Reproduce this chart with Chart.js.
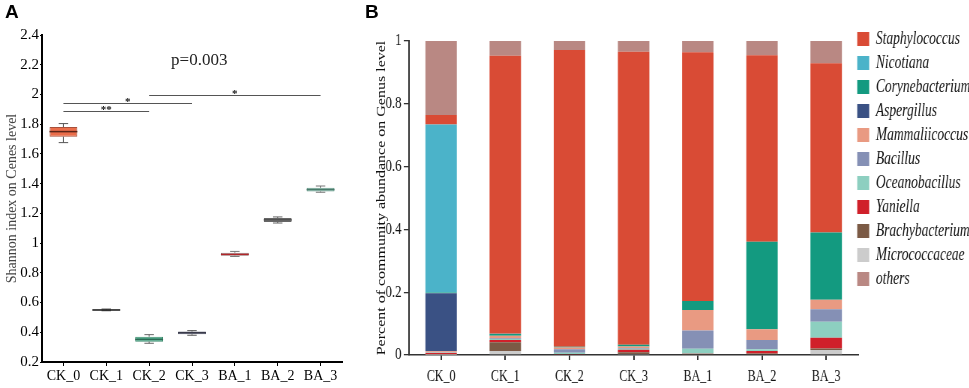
<!DOCTYPE html>
<html><head><meta charset="utf-8">
<script src="https://cdn.jsdelivr.net/npm/chart.js@4/dist/chart.umd.min.js"></script>
<style>
html,body{margin:0;padding:0;background:#fff;overflow:hidden}
body{width:969px;height:388px;position:relative}
#wa{position:absolute;left:0;top:0;width:350px;height:388px}
#wb{position:absolute;left:355px;top:0;width:819px;height:388px;transform:scaleX(0.75);transform-origin:0 0}
.lab{position:absolute;font:bold 19px "Liberation Sans",Arial,sans-serif;line-height:1;color:#000}
</style></head><body>
<div id="wa"><canvas id="ca" width="350" height="388"></canvas></div>
<div id="wb"><canvas id="cb" width="819" height="388"></canvas></div>
<div class="lab" style="left:5px;top:2px">A</div>
<div class="lab" style="left:365px;top:2px">B</div>
<script>
// ---------- data ----------
const groups = ['CK_0','CK_1','CK_2','CK_3','BA_1','BA_2','BA_3'];

// Panel A: Shannon index box statistics
const shannonMin = [1.676, 0.545, 0.326, 0.380, 0.910, 1.135, 1.342];
const shannonQ1  = [1.716, 0.547, 0.337, 0.386, 0.915, 1.142, 1.347];
const shannonMed = [1.750, 0.550, 0.352, 0.397, 0.924, 1.156, 1.360];
const shannonQ3  = [1.781, 0.553, 0.370, 0.405, 0.935, 1.168, 1.372];
const shannonMax = [1.804, 0.556, 0.384, 0.411, 0.944, 1.176, 1.384];
const shannonTicks = [0.2, 0.4, 0.6, 0.8, 1, 1.2, 1.4, 1.6, 1.8, 2, 2.2, 2.4];
const sigFrom  = [0, 0, 2];
const sigTo    = [2, 3, 6];
const sigLevel = [1.889, 1.943, 1.995];
const sigMark  = ['**', '*', '*'];
const pLabel = 'p=0.003';

// Panel B: relative abundance (legend order)
const genera = ['Staphylococcus','Nicotiana','Corynebacterium','Aspergillus','Mammaliicoccus','Bacillus','Oceanobacillus','Yaniella','Brachybacterium','Micrococcaceae','others'];
const staphylococcus  = [0.030, 0.885, 0.945, 0.933, 0.792, 0.594, 0.539];
const nicotiana       = [0.535, 0.001, 0.000, 0.000, 0.000, 0.000, 0.000];
const corynebacterium = [0.002, 0.006, 0.002, 0.006, 0.029, 0.279, 0.214];
const aspergillus     = [0.185, 0.000, 0.000, 0.000, 0.000, 0.000, 0.000];
const mammaliicoccus  = [0.004, 0.008, 0.006, 0.005, 0.065, 0.034, 0.030];
const bacillus        = [0.001, 0.002, 0.011, 0.002, 0.058, 0.030, 0.040];
const oceanobacillus  = [0.001, 0.003, 0.004, 0.003, 0.016, 0.005, 0.051];
const yaniella        = [0.004, 0.007, 0.001, 0.008, 0.001, 0.008, 0.034];
const brachybacterium = [0.001, 0.028, 0.000, 0.006, 0.001, 0.003, 0.005];
const micrococcaceae  = [0.001, 0.013, 0.002, 0.003, 0.002, 0.002, 0.016];
const others          = [0.236, 0.047, 0.029, 0.034, 0.036, 0.045, 0.071];
const abundanceTicks = [0, 0.2, 0.4, 0.6, 0.8, 1];

// ---------- styles ----------
const SERIF = '"Liberation Serif","Times New Roman",serif';
const boxFill   = ['#ea6d4a','#5a5a5a','#4fae8c','#8a8fa8','#c8c8c8','#9b9b9b','#8fc8b6'];
const boxEdge   = ['#a8503a','#333333','#3d8a6e','#555a6e','#888888','#666666','#6a9a8b'];
const medColor  = ['#5a2418','#222222','#2d6a55','#3a3a4a','#b3262a','#444444','#4a7a6b'];
const whiskColor= ['#555555','#444444','#666666','#555555','#777777','#666666','#777777'];

const generaColors = ['#d94b35','#4bb3c9','#139a80','#3a5184','#e99a82','#8590b5','#8dcfc0','#d0202a','#7b5a45','#cccccc','#b98883'];
const seriesB = [staphylococcus, nicotiana, corynebacterium, aspergillus, mammaliicoccus, bacillus, oceanobacillus, yaniella, brachybacterium, micrococcaceae, others];
const stackOrder = [9, 8, 7, 6, 5, 4, 3, 2, 1, 0, 10]; // bottom -> top

const fmt = v => String(+(+v).toFixed(2));

// ---------- Panel A ----------
const boxExtras = {
  id: 'boxExtras',
  afterDatasetsDraw(chart) {
    const {ctx, scales: {x, y}} = chart;
    const meta = chart.getDatasetMeta(0);
    ctx.save();
    groups.forEach((g, i) => {
      const bar = meta.data[i];
      const cx = x.getPixelForValue(i);
      const hw = bar.width / 2;
      const cw = bar.width * 0.17;
      ctx.strokeStyle = whiskColor[i];
      ctx.lineWidth = 1;
      ctx.beginPath();
      const yMax = y.getPixelForValue(shannonMax[i]);
      const yMin = y.getPixelForValue(shannonMin[i]);
      ctx.moveTo(cx, yMax); ctx.lineTo(cx, y.getPixelForValue(shannonQ3[i]));
      ctx.moveTo(cx, y.getPixelForValue(shannonQ1[i])); ctx.lineTo(cx, yMin);
      ctx.moveTo(cx - cw, yMax); ctx.lineTo(cx + cw, yMax);
      ctx.moveTo(cx - cw, yMin); ctx.lineTo(cx + cw, yMin);
      ctx.stroke();
      ctx.strokeStyle = medColor[i];
      ctx.lineWidth = 1.5;
      ctx.beginPath();
      const ym = y.getPixelForValue(shannonMed[i]);
      ctx.moveTo(cx - hw, ym); ctx.lineTo(cx + hw, ym);
      ctx.stroke();
    });
    ctx.restore();
  }
};
const sigPlugin = {
  id: 'sigPlugin',
  afterDraw(chart) {
    const {ctx, scales: {x, y}} = chart;
    ctx.save();
    ctx.strokeStyle = '#555';
    ctx.lineWidth = 1;
    ctx.fillStyle = '#111';
    ctx.font = 'bold 11px ' + SERIF;
    ctx.textAlign = 'center';
    ctx.textBaseline = 'alphabetic';
    sigFrom.forEach((f, k) => {
      const x1 = x.getPixelForValue(f), x2 = x.getPixelForValue(sigTo[k]);
      const yy = Math.round(y.getPixelForValue(sigLevel[k])) + 0.5;
      ctx.beginPath(); ctx.moveTo(x1, yy); ctx.lineTo(x2, yy); ctx.stroke();
      ctx.fillText(sigMark[k], (x1 + x2) / 2, yy + 1);
    });
    ctx.font = '17px ' + SERIF;
    ctx.fillStyle = '#222';
    ctx.textBaseline = 'middle';
    ctx.fillText(pLabel, x.getPixelForValue(3.17), y.getPixelForValue(2.23));
    ctx.restore();
  }
};

new Chart(document.getElementById('ca'), {
  type: 'bar',
  data: {
    labels: groups,
    datasets: [{
      data: groups.map((g, i) => [shannonQ1[i], shannonQ3[i]]),
      backgroundColor: boxFill,
      borderColor: boxEdge,
      borderWidth: 1,
      borderSkipped: false,
      barPercentage: 0.65,
      categoryPercentage: 1
    }]
  },
  options: {
    responsive: false, animation: false, events: [],
    layout: {padding: {top: 35, right: 8, left: 0, bottom: 0}},
    plugins: {legend: {display: false}, tooltip: {enabled: false}},
    scales: {
      x: {
        afterFit: s => { s.height = 26; },
        grid: {drawOnChartArea: false, offset: false, tickLength: 4, color: '#000', lineWidth: 1},
        border: {color: '#000', width: 2},
        ticks: {color: '#000', padding: 2, font: {family: SERIF, size: 14}}
      },
      y: {
        min: shannonTicks[0], max: shannonTicks[shannonTicks.length - 1],
        afterFit: s => { s.width = 42; },
        afterBuildTicks: s => { s.ticks = shannonTicks.map(v => ({value: v})); },
        grid: {drawOnChartArea: false, tickLength: 2, color: '#000', lineWidth: 1},
        border: {color: '#000', width: 2},
        ticks: {color: '#000', padding: 1, font: {family: SERIF, size: 15}, callback: v => fmt(v)},
        title: {display: true, text: 'Shannon index on Cenes level', color: '#444', font: {family: SERIF, size: 14}, padding: {top: 4, bottom: 0}}
      }
    }
  },
  plugins: [boxExtras, sigPlugin]
});

// ---------- Panel B ----------
const legendPos = {
  id: 'legendPos',
  beforeDraw(chart) {
    const lg = chart.legend;
    if (!lg) return;
    lg.left = chart.chartArea.right - 7.4;
    lg.top = 24;
    lg.right = chart.width;
  }
};

new Chart(document.getElementById('cb'), {
  type: 'bar',
  data: {
    labels: groups,
    datasets: stackOrder.map(i => ({
      label: genera[i],
      data: seriesB[i],
      backgroundColor: generaColors[i],
      borderWidth: 0,
      barPercentage: 0.49,
      categoryPercentage: 1
    }))
  },
  options: {
    responsive: false, animation: false, events: [],
    layout: {padding: {top: 41, right: 0, left: 0, bottom: 0}},
    plugins: {
      tooltip: {enabled: false},
      legend: {
        position: 'right', align: 'start', maxWidth: 148,
        labels: {
          boxWidth: 16, boxHeight: 14, padding: 6, color: '#111',
          font: {family: SERIF, size: 18, style: 'italic'},
          sort: (a, b) => stackOrder[a.datasetIndex] - stackOrder[b.datasetIndex]
        }
      }
    },
    scales: {
      x: {
        stacked: true,
        afterFit: s => { s.height = 33; },
        grid: {drawOnChartArea: false, offset: false, tickLength: 5, color: '#333', lineWidth: 2},
        border: {color: '#333', width: 1.5},
        ticks: {color: '#111', padding: 7, font: {family: SERIF, size: 16}}
      },
      y: {
        stacked: true, min: 0, max: 1,
        afterFit: s => { s.width = 72; },
        afterBuildTicks: s => { s.ticks = abundanceTicks.map(v => ({value: v})); },
        grid: {drawOnChartArea: false, tickLength: 7, color: '#333', lineWidth: 1.3},
        border: {color: '#333', width: 2},
        ticks: {color: '#111', padding: 3, font: {family: SERIF, size: 17}, callback: v => fmt(v)},
        title: {display: true, text: 'Percent of community abundance on Genus level', color: '#111', font: {family: SERIF, size: 16}, padding: {top: 26, bottom: 0}}
      }
    }
  },
  plugins: [legendPos]
});
</script>
</body></html>
